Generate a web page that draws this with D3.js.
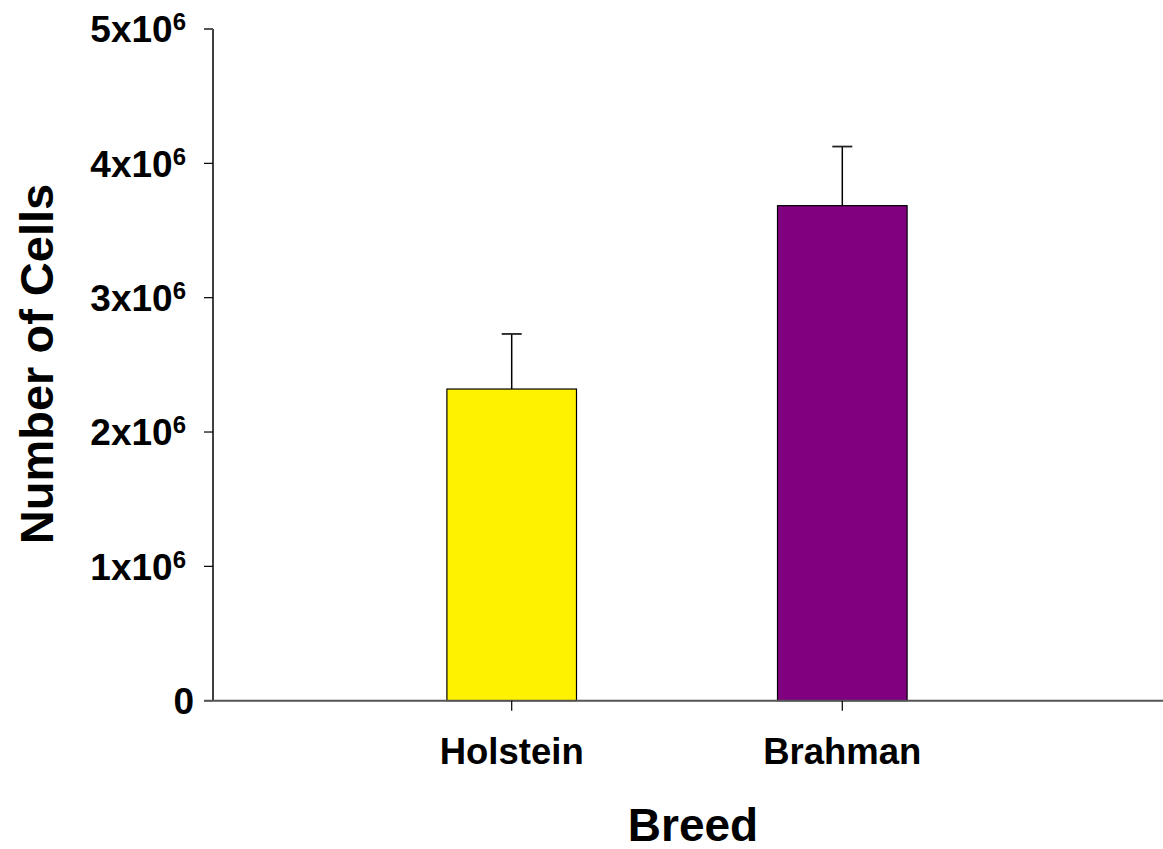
<!DOCTYPE html>
<html>
<head>
<meta charset="utf-8">
<script src="https://cdn.jsdelivr.net/npm/d3@7"></script>
<style>
  body { margin: 0; background: #fff; }
  svg { display: block; font-family: "Liberation Sans", Arial, sans-serif; font-weight: bold; }
</style>
</head>
<body>
<svg id="chart" width="1163" height="849"></svg>
<script>
const categories = ["Holstein", "Brahman"];
const means = [2.32e6, 3.685e6];
const errors = [0.41e6, 0.44e6];
const barColors = ["#FFF200", "#800080"];
const yTicks = [0, 1e6, 2e6, 3e6, 4e6, 5e6];
const yTickMantissa = ["0", "1x10", "2x10", "3x10", "4x10", "5x10"];
const yTickExponent = ["", "6", "6", "6", "6", "6"];
const xTitle = "Breed";
const yTitle = "Number of Cells";

const svg = d3.select("#chart");
const x0 = 213, x1 = 1141, yTop = 29, yBot = 700.7;

const y = d3.scaleLinear().domain([0, 5e6]).range([yBot, yTop]);
const x = d3.scalePoint().domain(categories).range([x0, x1]).padding(0.9035);
const barW = x.step() * 0.392;

// bars
svg.selectAll("rect.bar").data(categories).enter().append("rect")
  .attr("class", "bar")
  .attr("x", d => x(d) - barW / 2)
  .attr("y", (d, i) => y(means[i]))
  .attr("width", barW)
  .attr("height", (d, i) => y(0) - y(means[i]))
  .attr("fill", (d, i) => barColors[i])
  .attr("stroke", "#000")
  .attr("stroke-width", 1.2);

// error bars
const eg = svg.selectAll("g.err").data(categories).enter().append("g").attr("class", "err");
eg.append("line")
  .attr("x1", d => x(d)).attr("x2", d => x(d))
  .attr("y1", (d, i) => y(means[i])).attr("y2", (d, i) => y(means[i] + errors[i]))
  .attr("stroke", "#000").attr("stroke-width", 1.5);
eg.append("line")
  .attr("x1", d => x(d) - 10).attr("x2", d => x(d) + 10)
  .attr("y1", (d, i) => y(means[i] + errors[i])).attr("y2", (d, i) => y(means[i] + errors[i]))
  .attr("stroke", "#222").attr("stroke-width", 1.8);

// y axis
svg.append("line").attr("x1", x0).attr("x2", x0).attr("y1", y(5e6)).attr("y2", y(0))
  .attr("stroke", "#000").attr("stroke-width", 1.5);
const yg = svg.selectAll("g.ytick").data(yTicks).enter().append("g").attr("class", "ytick")
  .attr("transform", d => `translate(0,${y(d)})`);
yg.append("line").attr("x1", x0 - 9).attr("x2", x0).attr("stroke", (d, i) => i === 5 ? "#555" : "#000")
  .attr("stroke-width", (d, i) => i === 5 ? 2 : 1.2);
const yt = yg.append("text")
  .attr("x", (d, i) => yTickExponent[i] ? 186 : 194)
  .attr("dy", "0.36em")
  .attr("text-anchor", "end")
  .attr("font-size", 37)
  .attr("fill", "#000");
yt.append("tspan").text((d, i) => yTickMantissa[i]);
yt.append("tspan").attr("font-size", 24).attr("dy", "-0.5em").text((d, i) => yTickExponent[i]);

// x axis
svg.append("line").attr("x1", x0 - 9).attr("x2", 1163).attr("y1", y(0)).attr("y2", y(0))
  .attr("stroke", "#555").attr("stroke-width", 2);
const xg = svg.selectAll("g.xtick").data(categories).enter().append("g").attr("class", "xtick")
  .attr("transform", d => `translate(${x(d)},0)`);
xg.append("line").attr("y1", y(0)).attr("y2", y(0) + 10).attr("stroke", "#000").attr("stroke-width", 1.2);
xg.append("text").attr("y", 764).attr("text-anchor", "middle").attr("font-size", 36.5)
  .attr("fill", "#000").text(d => d);

// titles
svg.append("text").attr("x", 693).attr("y", 840.5).attr("text-anchor", "middle")
  .attr("font-size", 46).attr("fill", "#000").text(xTitle);
svg.append("text").attr("transform", "translate(53,364) rotate(-90)").attr("text-anchor", "middle")
  .attr("font-size", 47).attr("fill", "#000").text(yTitle);
</script>
</body>
</html>
